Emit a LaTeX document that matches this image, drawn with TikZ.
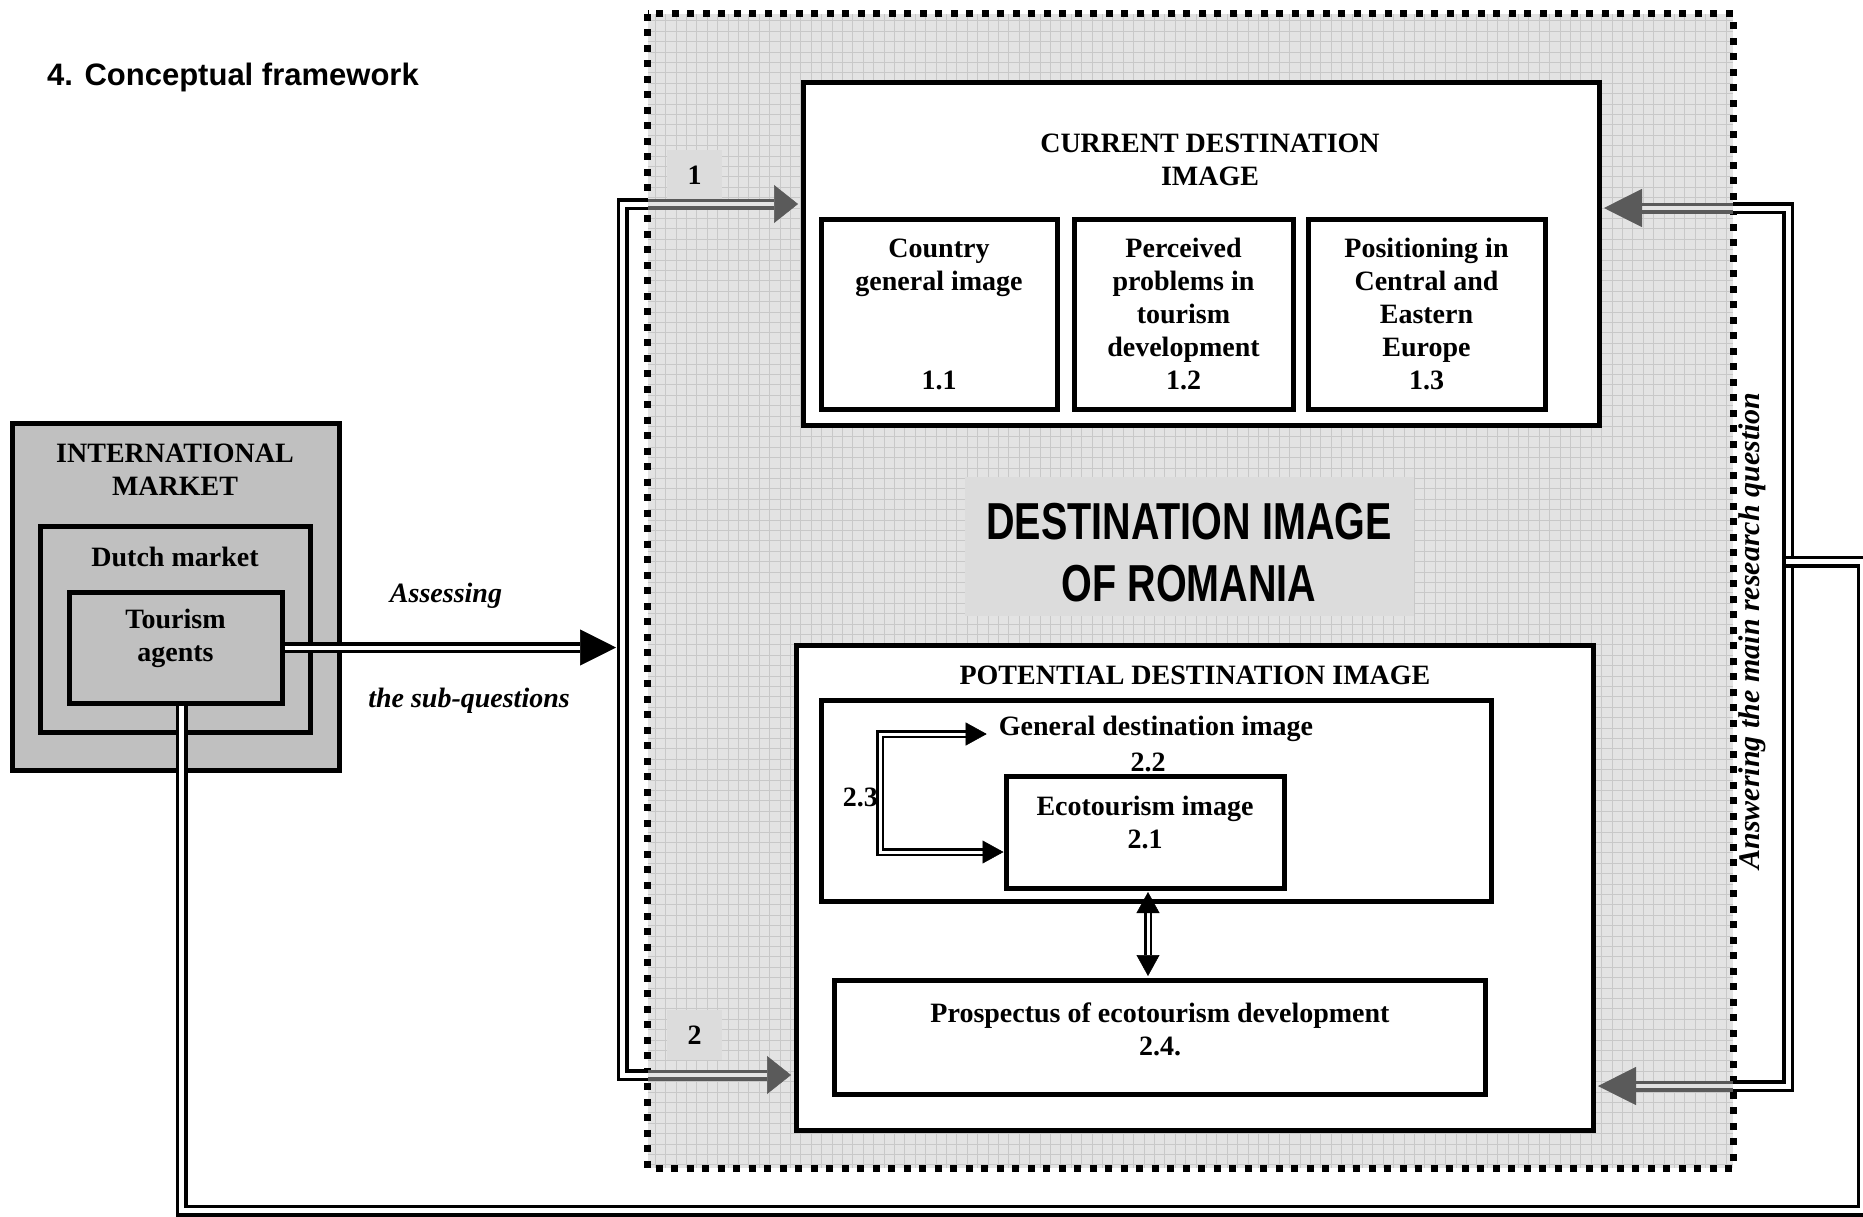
\documentclass[tikz,border=0pt]{standalone}
\usepackage{fontspec}
\setmainfont{Liberation Serif}
\newfontfamily\headfont{Liberation Sans}
\newfontfamily\bigfont{Liberation Sans}[FakeStretch=0.76]
\usetikzlibrary{arrows.meta}

\definecolor{panelbg}{HTML}{E3E3E3}
\definecolor{gridcol}{HTML}{C8C8C8}
\definecolor{tagbg}{HTML}{DCDCDC}
\definecolor{marketbg}{HTML}{C0C0C0}
\definecolor{flowgray}{HTML}{5A5A5A}

\tikzset{
  x=1pt, y=-1pt,
  txt/.style={font=\fontsize{28}{33}\selectfont\bfseries, align=center, inner sep=0pt},
  itxt/.style={font=\fontsize{28}{33}\selectfont\bfseries\itshape, inner sep=0pt},
  box/.style={draw, line width=5pt, fill=white, inner sep=0pt, txt},
  mbox/.style={box, fill=marketbg},
  tag/.style={fill=tagbg, inner sep=0pt, txt, minimum width=55pt, minimum height=50pt},
  dblline/.style={draw=black, double=white, line width=3.5pt, double distance=5pt},
  arrline/.style={draw=black, double=white, line width=3.5pt, double distance=4pt},
  thinline/.style={draw=black, double=white, line width=2.5pt, double distance=3pt},
  grayflow/.style={draw=flowgray, double=panelbg, line width=3.5pt, double distance=4pt},
  bigtri/.tip={Triangle[length=36pt, width=36pt, line width=0.5pt]},
  smalltri/.tip={Triangle[length=21pt, width=23pt, line width=0.5pt]},
  graytipL/.tip={Triangle[length=24pt, width=38pt, line width=0.5pt]},
  graytipR/.tip={Triangle[length=38pt, width=38pt, line width=0.5pt]},
}

\begin{document}
\begin{tikzpicture}
\useasboundingbox (0,0) rectangle (1863,1216);
\fill[white] (0,0) rectangle (1863,1216);
\clip (0,0) rectangle (1863,1216);

% heading
\node[inner sep=0pt, font=\headfont\bfseries\fontsize{31}{36}\selectfont] (title) at (233,77) {4. Conceptual framework};

% shaded research panel with grid
\node[minimum width=1085pt, minimum height=1154pt, inner sep=0pt] (frame) at (1190.5,591) {};
\begin{scope}
  \clip (frame.south west) rectangle (frame.north east);
  \fill[panelbg] (frame.south west) rectangle (frame.north east);
  \draw[gridcol, line width=1pt, step=10.4pt] (frame.south west) grid (frame.north east);
\end{scope}
\draw[line width=7pt, dash pattern=on 7pt off 8.5pt] (frame.north west) rectangle (frame.south east);

\node[tag] (tag1) at (694.5,175) {1};
\node[tag] (tag2) at (694.5,1035) {2};

% market boxes
\node[mbox, minimum width=327pt, minimum height=347pt] (intl) at (175.5,596.5) {};
\node[txt] (intltxt) at (175,470) {INTERNATIONAL\\MARKET};
\node[mbox, minimum width=270pt, minimum height=206pt] (dutch) at (175,629) {};
\node[txt] (dutchtxt) at (175,557) {Dutch market};
\node[mbox, minimum width=213pt, minimum height=111pt] (tour) at (175.5,647.5) {};
\node[txt] (tourtxt) at (175.5,638) {Tourism\\agents};

\node[itxt] (asstxt) at (446,596) {Assessing};
\node[itxt] (subtxt) at (469,701) {the sub-questions};

% current destination image
\node[box, minimum width=796pt, minimum height=343pt] (cur) at (1201,253.5) {};
\node[txt] (curtxt) at (1210,160) {CURRENT DESTINATION\\IMAGE};
\node[box, minimum width=236pt, minimum height=190pt] (b11) at (939,314) {Country\\general image\\~\\~\\1.1};
\node[box, minimum width=219pt, minimum height=190pt] (b12) at (1183.5,314) {Perceived\\problems in\\tourism\\development\\1.2};
\node[box, minimum width=237pt, minimum height=190pt] (b13) at (1426.5,314) {Positioning in\\Central and\\Eastern\\Europe\\1.3};

% central heading
\node[fill=tagbg, minimum width=449pt, minimum height=139pt, inner sep=0pt] (destbg) at (1189.5,546.5) {};
\node[inner sep=0pt, align=center, font=\bigfont\bfseries\fontsize{52}{62}\selectfont] (desttxt) at (1189,553) {DESTINATION IMAGE\\OF ROMANIA};

% potential destination image
\node[box, minimum width=797pt, minimum height=485pt] (pot) at (1194.5,887.5) {};
\node[txt] (pottxt) at (1195,675) {POTENTIAL DESTINATION IMAGE};
\node[box, minimum width=670pt, minimum height=201pt] (gen) at (1156,800.5) {};
\node[txt] (gentxt) at (1156,729) {General destination image};
\node[txt] (g22) at (1148,762) {2.2};
\node[box, minimum width=278pt, minimum height=112pt] (eco) at (1145,832) {};
\node[txt] (ecotxt) at (1145,822) {Ecotourism image\\2.1};
\node[box, minimum width=651pt, minimum height=114pt] (pros) at (1159.5,1037) {};
\node[txt] (prostxt) at (1160,1029) {Prospectus of ecotourism development\\2.4.};
\node[txt, anchor=east] (t23) at (878,797) {2.3};

\node[itxt, font=\fontsize{30}{36}\selectfont\bfseries\itshape, rotate=90] (anstxt) at (1752,631) {Answering the main research question};

% junction points
\coordinate (L1) at (648,204);
\coordinate (L2) at (648,1075);
\coordinate (R1) at (1733,208);
\coordinate (R2) at (1733,1086);
\coordinate (lhit) at (616,647.5);
\coordinate (rjoin) at (1786,561.5);
\coordinate (loopSE) at (1862.5,1210.5);
\coordinate (loopNE) at (1862.5,561.5);
\coordinate (tourdown) at ([xshift=6pt]tour.south);
\coordinate (gtip) at ([xshift=-12pt,yshift=-5pt]gentxt.west);
\coordinate (ecoin) at ([yshift=-20pt]eco.west);
\coordinate (ebot) at ([xshift=3pt]eco.south);

% sub-question flow
\draw[arrline, -bigtri] (tour.east) -- (lhit);
\draw[dblline] (L1) -- (622.5,204) -- (622.5,1075) -- (L2);
\draw[grayflow, -graytipL, shorten >=2.5pt] (L1) -- (L1 -| cur.west);
\draw[grayflow, -graytipL, shorten >=2.5pt] (L2) -- (L2 -| pot.west);

% main question flow
\draw[grayflow, -graytipR, shorten >=2.5pt] (R1) -- (R1 -| cur.east);
\draw[grayflow, -graytipR, shorten >=2.5pt] (R2) -- (R2 -| pot.east);
\draw[dblline] (R1) -- (1788,208) -- (1788,1086) -- (R2);
\draw[dblline] (tourdown) |- (loopSE) -- (loopNE) -- (rjoin);

% links inside the potential image
\draw[thinline, smalltri-smalltri] (gtip) -- (880,734) -- (880,852) -- (ecoin);
\draw[thinline, smalltri-smalltri, shorten <=1.5pt, shorten >=1.5pt] (ebot) -- (ebot |- pros.north);
\end{tikzpicture}
\end{document}
